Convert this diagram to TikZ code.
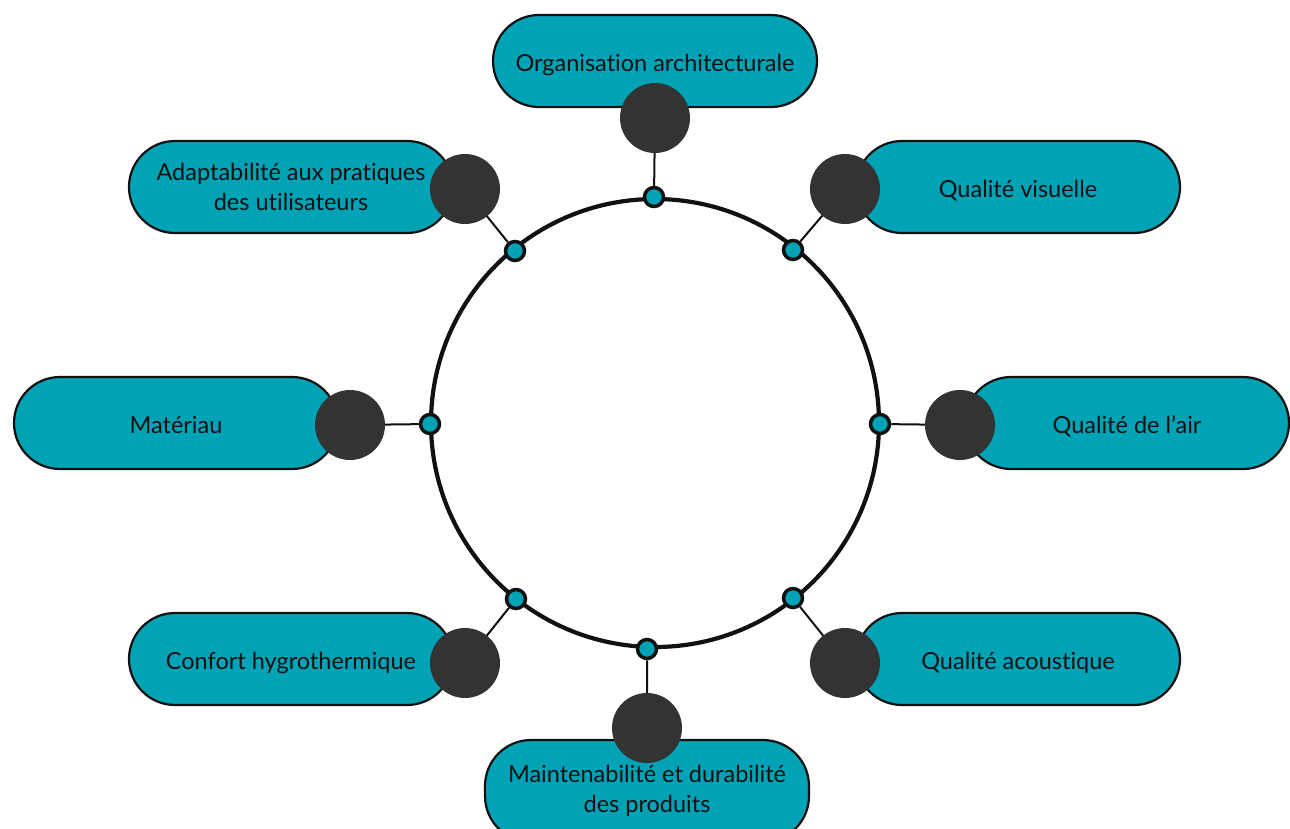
\documentclass[tikz,border=0pt]{standalone}
\usepackage{fontspec}
\setmainfont{Lato}[Ligatures=NoCommon]
\usepackage{tikz}
\usetikzlibrary{shapes,backgrounds,arrows,positioning,calc}
\usepackage{xcolor}
\definecolor{teal1}{HTML}{00A2B6}
\definecolor{dark1}{HTML}{333333}
\definecolor{ink1}{HTML}{111111}

\begin{document}
\begin{tikzpicture}[x=1pt,y=-1pt,thick]
\tikzstyle{pill}=[draw=ink1,line width=2.2pt,fill=teal1,rounded corners=46pt,minimum width=324pt,minimum height=92pt,text=ink1,font=\fontsize{23.5}{29.5}\selectfont,inner sep=0pt]
\tikzstyle{one}=[text height=21pt,text depth=1pt]
\tikzstyle{two}=[align=center]
\tikzstyle{knob}=[circle,fill=dark1,minimum size=70pt,inner sep=0pt]
\tikzstyle{dot}=[circle,draw=ink1,line width=3.5pt,fill=teal1,minimum size=19pt,inner sep=0pt]
\tikzstyle{ring}=[circle,draw=ink1,line width=4.2pt,minimum size=448pt,inner sep=0pt]
\tikzstyle{link}=[draw=ink1,line width=2pt]
\useasboundingbox (0,0) rectangle (1290,828);
% ring
\node[ring] (R) at (655,423) {};
% dots on the ring
\node[dot] (d1) at (654,197) {};
\node[dot] (d2) at (793,250) {};
\node[dot] (d3) at (880,424) {};
\node[dot] (d4) at (793,598) {};
\node[dot] (d5) at (647,649) {};
\node[dot] (d6) at (516,599) {};
\node[dot] (d7) at (430,424) {};
\node[dot] (d8) at (515,251) {};
% knobs
\coordinate (k1) at (655,118);
\coordinate (k2) at (845,189);
\coordinate (k3) at (960,425);
\coordinate (k4) at (845,663);
\coordinate (k5) at (647,728);
\coordinate (k6) at (465,663);
\coordinate (k7) at (350,425);
\coordinate (k8) at (465,189);
\begin{scope}[on background layer]
\path[link] (d1) -- (k1) (d2) -- (k2) (d3) -- (k3) (d4) -- (k4)
  (d5) -- (k5) (d6) -- (k6) (d7) -- (k7) (d8) -- (k8);
\end{scope}
% labels
\node[pill,one] (A) at (655,61) {Organisation architecturale};
\node[pill,one] (B) at (1018,187) {Qualit\'e visuelle};
\node[pill,one] (C) at (1127,423) {Qualit\'e de l'air};
\node[pill,one] (D) at (1018,659) {Qualit\'e acoustique};
\node[pill,two,minimum height=102pt] (E) at (647,791) {Maintenabilit\'e et durabilit\'e\\des produits};
\node[pill,one] (F) at (291,659) {Confort hygrothermique};
\node[pill,one] (G) at (176,423) {Mat\'eriau};
\node[pill,two] (H) at (291,187) {Adaptabilit\'e aux pratiques\\des utilisateurs};
\foreach \k in {k1,k2,k3,k4,k5,k6,k7,k8}
  \node[knob] at (\k) {};
\end{tikzpicture}
\end{document}
